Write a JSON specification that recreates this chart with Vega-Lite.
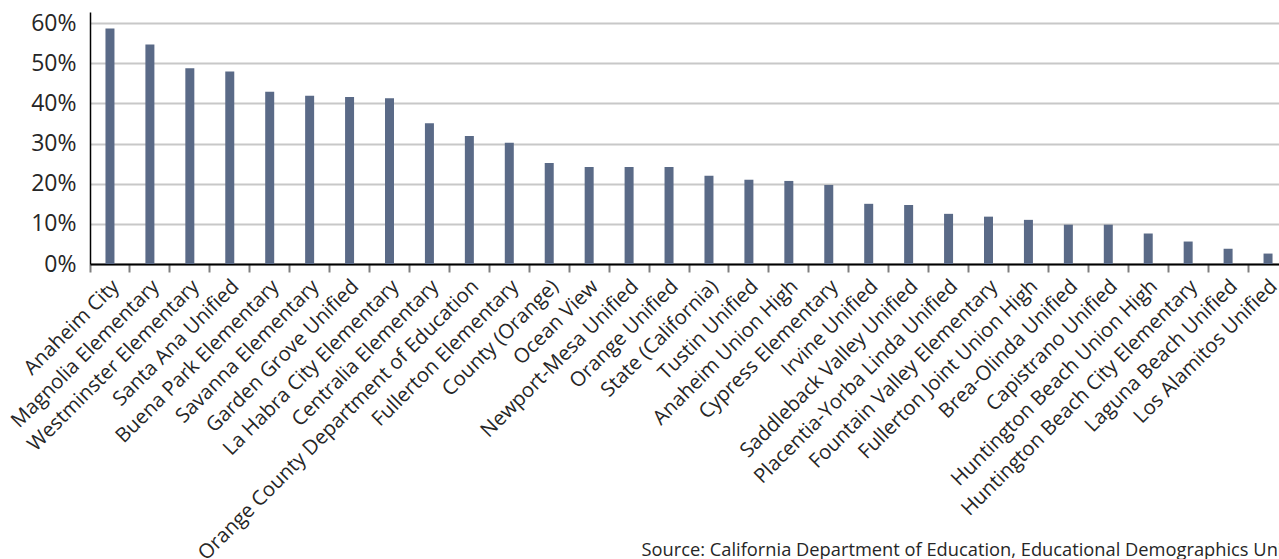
{
  "$schema": "https://vega.github.io/schema/vega-lite/v6.json",
  "autosize": "none",
  "width": 1198,
  "height": 252,
  "padding": {"left": 90, "top": 12, "right": 0, "bottom": 295},
  "background": "white",
  "title": {
    "text": "Share of English Learners by District",
    "font": "Open Sans",
    "fontSize": 20,
    "fontWeight": "normal",
    "color": "#44546A",
    "anchor": "middle",
    "baseline": "alphabetic",
    "offset": 13,
    "dx": -50
  },
  "data": {
    "values": [
      {"district": "Anaheim City", "pct": 0.587},
      {"district": "Magnolia Elementary", "pct": 0.547},
      {"district": "Westminster Elementary", "pct": 0.488},
      {"district": "Santa Ana Unified", "pct": 0.480},
      {"district": "Buena Park Elementary", "pct": 0.429},
      {"district": "Savanna Elementary", "pct": 0.419},
      {"district": "Garden Grove Unified", "pct": 0.416},
      {"district": "La Habra City Elementary", "pct": 0.413},
      {"district": "Centralia Elementary", "pct": 0.351},
      {"district": "Orange County Department of Education", "pct": 0.319},
      {"district": "Fullerton Elementary", "pct": 0.302},
      {"district": "County  (Orange)", "pct": 0.252},
      {"district": "Ocean View", "pct": 0.242},
      {"district": "Newport-Mesa Unified", "pct": 0.242},
      {"district": "Orange Unified", "pct": 0.242},
      {"district": "State (California)", "pct": 0.220},
      {"district": "Tustin Unified", "pct": 0.210},
      {"district": "Anaheim Union High", "pct": 0.207},
      {"district": "Cypress Elementary", "pct": 0.197},
      {"district": "Irvine Unified", "pct": 0.150},
      {"district": "Saddleback Valley Unified", "pct": 0.147},
      {"district": "Placentia-Yorba Linda Unified", "pct": 0.125},
      {"district": "Fountain Valley Elementary", "pct": 0.118},
      {"district": "Fullerton Joint Union High", "pct": 0.110},
      {"district": "Brea-Olinda Unified", "pct": 0.098},
      {"district": "Capistrano Unified", "pct": 0.098},
      {"district": "Huntington Beach Union High", "pct": 0.076},
      {"district": "Huntington Beach City Elementary", "pct": 0.056},
      {"district": "Laguna Beach Unified", "pct": 0.038},
      {"district": "Los Alamitos Unified", "pct": 0.026}
    ]
  },
  "mark": {"type": "bar", "color": "#5a6a87", "width": 9},
  "encoding": {
    "x": {
      "field": "district",
      "type": "nominal",
      "sort": null,
      "scale": {"paddingInner": 0, "paddingOuter": 0},
      "axis": {
        "title": "Source: California Department of Education, Educational Demographics Unit",
        "titleFont": "Open Sans",
        "titleFontSize": 18.3,
        "titleFontWeight": "normal",
        "titleColor": "#262626",
        "titleAnchor": "start",
        "titleAlign": "left",
        "titleBaseline": "alphabetic",
        "titleX": 551,
        "titleY": 291,
        "labelAngle": -45,
        "labelFont": "Open Sans",
        "labelFontSize": 20.3,
        "labelColor": "#262626",
        "labelLimit": 800,
        "labelPadding": 4,
        "labelOffset": -1,
        "bandPosition": 0,
        "domainColor": "#000000",
        "domainWidth": 2,
        "tickColor": "#7f7f7f",
        "tickWidth": 2,
        "tickSize": 8,
        "grid": false
      }
    },
    "y": {
      "field": "pct",
      "type": "quantitative",
      "scale": {"domain": [0, 0.628], "nice": false},
      "axis": {
        "title": null,
        "values": [0, 0.1, 0.2, 0.3, 0.4, 0.5, 0.6],
        "format": ".0%",
        "ticks": false,
        "labelFont": "Open Sans",
        "labelFontSize": 23,
        "labelColor": "#262626",
        "labelPadding": 14,
        "domainColor": "#000000",
        "domainWidth": 1.5,
        "gridColor": "#c8c8c8",
        "gridWidth": 2
      }
    }
  },
  "config": {"view": {"stroke": null}}
}
